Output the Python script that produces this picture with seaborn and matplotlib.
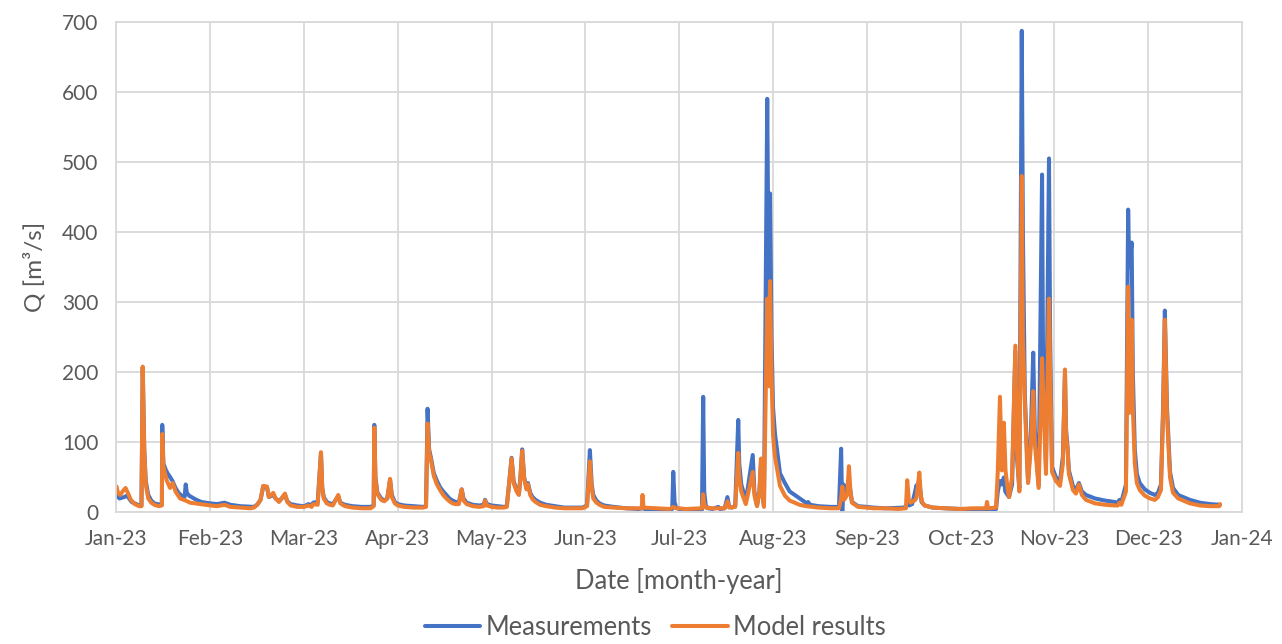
import matplotlib
matplotlib.use("Agg")
import matplotlib.pyplot as plt
import numpy as np
import pandas as pd
import seaborn as sns

# Discharge time series, 2023: timestamps as "MM-DD HH", discharge in m3/s
meas_time = [
    "01-01 00", "01-02 00", "01-03 12", "01-04 12", "01-06 00", "01-08 00", "01-09 06", "01-09 16",
    "01-10 04", "01-10 16", "01-11 12", "01-12 12", "01-13 12", "01-15 12", "01-16 00", "01-16 03",
    "01-16 12", "01-17 09", "01-18 00", "01-18 12", "01-19 12", "01-20 12", "01-21 12", "01-22 12",
    "01-23 12", "01-23 21", "01-24 06", "01-25 00", "01-27 00", "01-29 00", "02-01 00", "02-03 00",
    "02-05 06", "02-07 00", "02-10 00", "02-14 00", "02-15 00", "02-16 00", "02-16 19", "02-17 22",
    "02-18 12", "02-19 19", "02-20 12", "02-21 12", "02-23 07", "02-24 00", "02-25 00", "02-27 00",
    "03-01 00", "03-02 12", "03-03 12", "03-04 00", "03-05 12", "03-06 14", "03-07 00", "03-07 12",
    "03-08 12", "03-09 12", "03-10 12", "03-12 07", "03-13 00", "03-14 12", "03-17 00", "03-20 00",
    "03-23 00", "03-24 00", "03-24 05", "03-24 14", "03-25 06", "03-26 12", "03-27 12", "03-28 12",
    "03-29 10", "03-30 00", "03-31 00", "04-01 00", "04-03 00", "04-06 00", "04-09 00", "04-10 00",
    "04-10 12", "04-11 00", "04-11 14", "04-12 12", "04-13 12", "04-14 12", "04-15 12", "04-16 12",
    "04-17 12", "04-18 12", "04-19 12", "04-20 12", "04-21 10", "04-22 00", "04-23 00", "04-25 00",
    "04-27 00", "04-28 12", "04-28 21", "04-29 12", "05-01 00", "05-03 00", "05-05 00", "05-06 00",
    "05-06 12", "05-07 14", "05-08 06", "05-09 06", "05-10 00", "05-10 12", "05-11 02", "05-11 18",
    "05-12 12", "05-13 00", "05-13 18", "05-14 12", "05-15 12", "05-17 00", "05-19 00", "05-22 00",
    "05-25 00", "05-31 00", "06-01 12", "06-02 10", "06-03 00", "06-03 12", "06-04 12", "06-05 12",
    "06-07 00", "06-10 00", "06-14 00", "06-18 00", "06-19 06", "06-20 00", "06-24 00", "06-28 00",
    "06-28 18", "06-29 02", "06-29 12", "06-30 00", "07-01 00", "07-03 00", "07-08 12", "07-08 22",
    "07-09 06", "07-09 18", "07-10 12", "07-12 00", "07-13 22", "07-14 12", "07-16 00", "07-16 22",
    "07-17 12", "07-18 12", "07-19 12", "07-20 12", "07-20 20", "07-21 12", "07-22 12", "07-23 00",
    "07-25 07", "07-25 20", "07-26 12", "07-26 17", "07-27 12", "07-28 00", "07-28 12", "07-29 00",
    "07-30 02", "07-30 14", "07-31 00", "07-31 12", "08-01 00", "08-01 15", "08-03 07", "08-04 22",
    "08-06 12", "08-09 19", "08-11 12", "08-12 00", "08-12 14", "08-13 06", "08-16 00", "08-20 00",
    "08-22 19", "08-23 12", "08-23 21", "08-24 07", "08-25 02", "08-26 02", "08-27 02", "08-29 02",
    "09-01 00", "09-03 00", "09-07 00", "09-13 00", "09-13 22", "09-14 12", "09-15 12", "09-16 22",
    "09-17 06", "09-17 19", "09-18 12", "09-19 12", "09-22 00", "09-26 00", "10-01 00", "10-05 00",
    "10-12 17", "10-13 07", "10-14 00", "10-14 15", "10-15 07", "10-15 18", "10-17 00", "10-18 00",
    "10-19 02", "10-19 14", "10-20 10", "10-21 05", "10-21 14", "10-22 05", "10-23 07", "10-24 03",
    "10-25 00", "10-25 12", "10-26 19", "10-27 22", "10-28 05", "10-29 05", "10-30 05", "10-30 14",
    "10-31 05", "11-01 12", "11-02 19", "11-03 17", "11-04 09", "11-04 17", "11-05 05", "11-05 15",
    "11-06 22", "11-07 21", "11-08 20", "11-09 19", "11-11 02", "11-14 00", "11-17 05", "11-20 07",
    "11-21 07", "11-21 19", "11-22 10", "11-23 21", "11-24 14", "11-24 22", "11-25 17", "11-26 02",
    "11-26 17", "11-27 09", "11-28 07", "11-29 22", "12-01 14", "12-03 05", "12-04 05", "12-05 05",
    "12-05 22", "12-06 12", "12-07 05", "12-08 05", "12-09 05", "12-10 22", "12-14 19", "12-18 02",
    "12-21 10", "12-24 17",
]
meas_q = [
    24, 20, 22, 24, 15, 11, 10, 207,
    90, 45, 25, 17, 13, 11, 12, 125,
    70, 60, 55, 52, 45, 35, 28, 24,
    22, 40, 28, 24, 19, 15, 13, 12,
    14, 11, 9, 8, 11, 18, 37, 36,
    22, 25, 20, 16, 25, 16, 12, 10,
    9, 12, 10, 14, 15, 85, 35, 22,
    15, 13, 12, 23, 14, 11, 9, 8,
    8, 10, 125, 50, 28, 20, 17, 20,
    47, 25, 15, 12, 10, 9, 8, 9,
    148, 90, 78, 56, 45, 36, 30, 25,
    20, 17, 15, 14, 33, 20, 14, 11,
    10, 11, 18, 12, 10, 9, 8, 9,
    30, 78, 45, 32, 26, 50, 90, 50,
    35, 42, 28, 22, 18, 14, 11, 9,
    7, 7, 10, 89, 40, 25, 17, 13,
    10, 8, 6, 5, 6, 5, 5, 4,
    5, 58, 15, 7, 5, 4, 4, 165,
    30, 10, 6, 5, 8, 5, 6, 22,
    8, 7, 10, 132, 70, 40, 25, 16,
    82, 30, 15, 10, 30, 70, 25, 10,
    590, 300, 455, 250, 150, 113, 56, 42,
    30, 20, 15, 12, 15, 11, 9, 8,
    8, 91, 0, 40, 30, 45, 15, 9,
    8, 7, 6, 7, 12, 10, 12, 39,
    30, 45, 15, 10, 7, 6, 5, 5,
    5, 30, 45, 40, 50, 30, 22, 40,
    230, 80, 35, 687, 400, 170, 45, 100,
    228, 120, 38, 482, 240, 65, 505, 250,
    65, 50, 45, 80, 200, 120, 92, 60,
    38, 32, 42, 30, 25, 20, 17, 15,
    14, 18, 15, 40, 432, 350, 385, 200,
    90, 55, 42, 33, 28, 25, 28, 40,
    150, 288, 150, 58, 35, 25, 18, 14,
    12, 11,
]

model_time = [
    "01-01 00", "01-01 12", "01-02 06", "01-03 00", "01-04 00", "01-04 18", "01-05 18", "01-07 00",
    "01-08 12", "01-09 06", "01-09 16", "01-10 04", "01-10 16", "01-11 12", "01-12 12", "01-13 12",
    "01-15 00", "01-16 00", "01-16 03", "01-16 12", "01-17 14", "01-18 17", "01-19 14", "01-20 12",
    "01-22 00", "01-23 21", "01-25 08", "01-28 14", "02-01 00", "02-03 00", "02-05 06", "02-07 00",
    "02-10 00", "02-13 00", "02-14 00", "02-15 00", "02-16 00", "02-16 19", "02-17 22", "02-18 12",
    "02-19 19", "02-20 12", "02-21 12", "02-23 07", "02-24 00", "02-25 00", "02-27 00", "03-01 00",
    "03-02 12", "03-03 12", "03-04 00", "03-05 12", "03-06 14", "03-07 00", "03-07 12", "03-08 12",
    "03-09 12", "03-10 12", "03-12 07", "03-13 00", "03-14 12", "03-17 00", "03-20 00", "03-23 00",
    "03-24 00", "03-24 05", "03-24 14", "03-25 06", "03-26 12", "03-27 12", "03-28 12", "03-29 10",
    "03-30 00", "03-31 00", "04-01 00", "04-03 00", "04-06 00", "04-09 00", "04-10 00", "04-10 12",
    "04-11 00", "04-11 14", "04-12 12", "04-13 12", "04-14 12", "04-15 12", "04-16 12", "04-17 12",
    "04-18 12", "04-19 12", "04-20 12", "04-21 10", "04-22 00", "04-23 00", "04-25 00", "04-27 00",
    "04-28 12", "04-28 21", "04-29 12", "05-01 00", "05-03 00", "05-05 00", "05-06 00", "05-06 12",
    "05-07 14", "05-08 06", "05-09 06", "05-10 00", "05-10 12", "05-11 02", "05-11 18", "05-12 12",
    "05-13 00", "05-13 18", "05-14 12", "05-15 12", "05-17 00", "05-19 00", "05-22 00", "05-25 00",
    "05-31 00", "06-01 12", "06-02 10", "06-03 00", "06-03 12", "06-04 12", "06-05 12", "06-07 00",
    "06-10 00", "06-14 00", "06-19 00", "06-19 06", "06-19 14", "06-24 00", "06-28 00", "06-29 02",
    "06-30 00", "07-01 00", "07-03 00", "07-08 12", "07-08 22", "07-09 06", "07-09 18", "07-12 00",
    "07-16 00", "07-16 22", "07-17 12", "07-19 12", "07-20 12", "07-20 20", "07-21 12", "07-22 12",
    "07-23 00", "07-25 07", "07-25 20", "07-26 12", "07-26 17", "07-27 12", "07-28 00", "07-28 12",
    "07-29 00", "07-30 02", "07-30 14", "07-31 00", "07-31 12", "08-01 00", "08-01 15", "08-03 07",
    "08-04 22", "08-06 12", "08-09 19", "08-12 00", "08-16 00", "08-20 00", "08-22 19", "08-23 12",
    "08-23 21", "08-24 12", "08-25 12", "08-26 02", "08-26 14", "08-27 02", "08-29 02", "09-01 00",
    "09-03 00", "09-07 00", "09-11 00", "09-13 12", "09-13 22", "09-14 10", "09-15 00", "09-16 12",
    "09-16 22", "09-17 19", "09-18 06", "09-18 18", "09-19 12", "09-22 00", "09-26 00", "10-01 00",
    "10-05 00", "10-09 10", "10-09 17", "10-10 02", "10-12 17", "10-13 07", "10-14 00", "10-14 15",
    "10-15 07", "10-15 20", "10-16 12", "10-17 00", "10-18 00", "10-19 02", "10-19 14", "10-20 10",
    "10-21 05", "10-21 14", "10-22 05", "10-23 00", "10-23 07", "10-24 03", "10-25 00", "10-25 12",
    "10-26 19", "10-27 22", "10-28 05", "10-29 05", "10-30 05", "10-30 14", "10-31 05", "11-01 12",
    "11-02 19", "11-03 17", "11-04 09", "11-04 17", "11-05 05", "11-05 15", "11-06 22", "11-07 21",
    "11-08 20", "11-09 19", "11-11 02", "11-14 00", "11-17 05", "11-20 07", "11-21 07", "11-21 19",
    "11-22 10", "11-23 21", "11-24 14", "11-24 22", "11-25 17", "11-26 02", "11-26 17", "11-27 09",
    "11-28 07", "11-29 22", "12-01 14", "12-03 05", "12-04 05", "12-05 05", "12-05 22", "12-06 12",
    "12-07 05", "12-08 05", "12-09 05", "12-10 22", "12-14 19", "12-18 02", "12-21 10", "12-24 12",
    "12-24 17",
]
model_q = [
    37, 28, 25, 30, 35, 28, 18, 12,
    9, 9, 208, 90, 40, 20, 14, 11,
    9, 10, 112, 65, 46, 35, 42, 30,
    20, 17, 14, 12, 10, 9, 11, 8,
    7, 6, 7, 11, 18, 38, 37, 22,
    28, 20, 15, 27, 15, 10, 8, 8,
    10, 8, 12, 11, 86, 35, 20, 13,
    11, 10, 25, 13, 9, 7, 6, 6,
    9, 121, 48, 26, 18, 16, 20, 48,
    22, 13, 10, 8, 7, 7, 8, 127,
    85, 75, 52, 40, 32, 25, 20, 16,
    13, 12, 12, 33, 17, 12, 9, 8,
    9, 17, 10, 8, 7, 7, 8, 30,
    77, 42, 30, 25, 50, 88, 48, 33,
    40, 25, 19, 15, 11, 9, 7, 6,
    6, 9, 73, 35, 20, 14, 11, 8,
    7, 6, 6, 25, 7, 6, 5, 8,
    6, 6, 5, 6, 26, 12, 7, 6,
    6, 16, 7, 8, 85, 50, 30, 18,
    12, 58, 25, 12, 9, 30, 77, 25,
    8, 305, 180, 330, 200, 110, 80, 38,
    24, 17, 11, 9, 7, 6, 6, 20,
    37, 18, 25, 66, 30, 14, 8, 7,
    6, 6, 5, 6, 46, 18, 14, 18,
    22, 57, 25, 14, 10, 7, 6, 5,
    6, 6, 15, 6, 7, 60, 165, 60,
    128, 60, 35, 22, 50, 238, 90, 30,
    480, 250, 160, 65, 42, 90, 173, 100,
    35, 220, 180, 55, 305, 200, 58, 45,
    38, 70, 204, 110, 90, 55, 32, 27,
    40, 25, 18, 13, 11, 10, 10, 14,
    11, 30, 322, 142, 275, 150, 70, 42,
    32, 24, 20, 18, 22, 32, 140, 275,
    140, 50, 28, 20, 13, 10, 9, 9,
    12,
]

series_names = ["Measurements", "Model results"]
series_colors = ["#4472C4", "#ED7D31"]
month_starts = pd.date_range("2023-01-01", "2024-01-01", freq="MS")
month_labels = list(month_starts.strftime("%b-%y"))


def month_position(stamps):
    """Place timestamps on an axis where every calendar month has the same width."""
    t = pd.to_datetime(["2023-" + s for s in stamps], format="%Y-%m-%d %H")
    pos = (t.year - 2023) * 12 + (t.month - 1) + (t.day - 1 + t.hour / 24) / t.days_in_month
    return np.asarray(pos, dtype=float)


df = pd.concat([
    pd.DataFrame({"pos": month_position(meas_time), "Q": meas_q, "series": series_names[0]}),
    pd.DataFrame({"pos": month_position(model_time), "Q": model_q, "series": series_names[1]}),
], ignore_index=True)

sns.set_theme(style="white")
plt.rcParams["font.family"] = ["Lato", "DejaVu Sans"]

text_color = "#595959"
grid_color = "#D9D9D9"

fig = plt.figure(figsize=(12.82, 6.44), dpi=100)
ax = fig.add_axes([0.09087, 0.2042, 0.87793, 0.7621])

sns.lineplot(
    data=df, x="pos", y="Q", hue="series", hue_order=series_names,
    palette=dict(zip(series_names, series_colors)),
    estimator=None, linewidth=2.9, ax=ax,
)

ax.set_xlim(0, 12)
ax.set_ylim(0, 700)
ax.set_xticks(np.arange(len(month_labels)))
ax.set_xticklabels(month_labels)
ax.set_yticks(np.arange(0, 701, 100))

ax.grid(True, color=grid_color, linewidth=1.3)
ax.set_axisbelow(True)
for side in ["top", "right", "left", "bottom"]:
    ax.spines[side].set_color(grid_color)
    ax.spines[side].set_linewidth(1.3)

ax.tick_params(axis="both", length=0, labelsize=15, colors=text_color)
ax.tick_params(axis="y", pad=13)
ax.tick_params(axis="x", pad=12)

ax.set_xlabel("Date [month-year]", fontsize=18.4, color=text_color)
ax.set_ylabel("Q [m³/s]", fontsize=17.5, color=text_color)
ax.xaxis.set_label_coords(0.5, -0.114)
ax.yaxis.set_label_coords(-0.063, 0.5)

sns.move_legend(
    ax, "center", bbox_to_anchor=(0.4785, -0.2335), ncol=2, frameon=False,
    title=None, fontsize=18.4, handlelength=2.18, handletextpad=0.2, columnspacing=0.78,
    borderpad=0.1,
)
for txt in ax.get_legend().get_texts():
    txt.set_color(text_color)

fig.savefig("out.png", dpi=100)
